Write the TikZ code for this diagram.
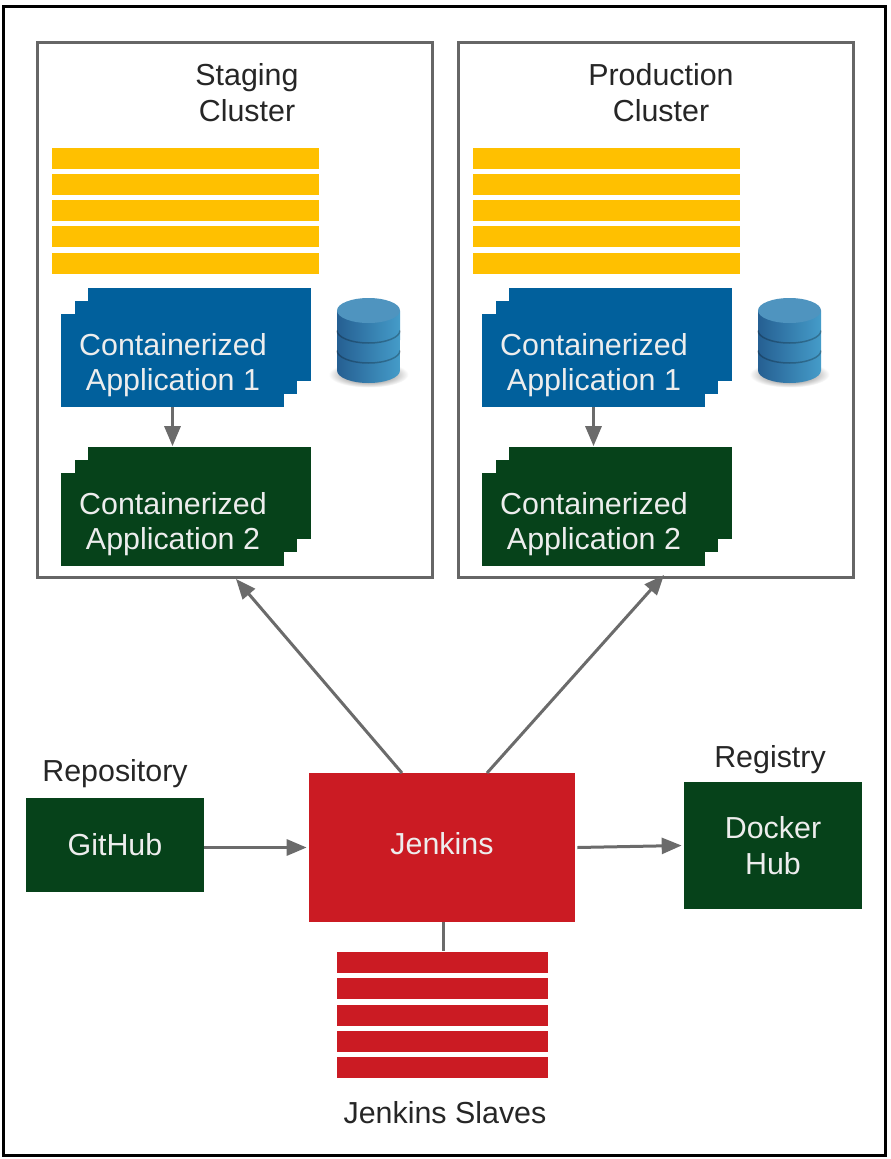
\documentclass[tikz,border=0pt]{standalone}
\usepackage{fontspec}
\setmainfont{Liberation Sans}
\usetikzlibrary{arrows.meta, positioning}

\definecolor{appBlue}{HTML}{01609C}
\definecolor{appGreen}{HTML}{06421A}
\definecolor{jenkinsRed}{HTML}{CB1B23}
\definecolor{barYellow}{HTML}{FFC000}
\definecolor{lineGray}{HTML}{6B6B6B}
\definecolor{frameGray}{HTML}{666666}
\definecolor{dbDark}{HTML}{255F92}
\definecolor{dbLight}{HTML}{459CC9}
\definecolor{dbTop}{HTML}{4F94BF}

\tikzset{
	txt/.style={font=\fontsize{17.3}{20.2}\selectfont, align=center, text=black!85, inner sep=0},
	boxtxt/.style={font=\fontsize{17.3}{20.2}\selectfont, align=center, text=white!93!black, inner sep=0},
	cluster/.style={draw=frameGray, line width=0.06cm, fill=white, minimum width=7.92cm, minimum height=10.72cm},
	yellowbar/.style={fill=barYellow, inner sep=0, minimum width=5.34cm, minimum height=0.42cm},
	redbar/.style={fill=jenkinsRed, inner sep=0, minimum width=4.22cm, minimum height=0.42cm},
	card/.style={inner sep=0, minimum width=4.46cm, minimum height=1.86cm},
	solidbox/.style={boxtxt},
	flow/.style={draw=lineGray, line width=0.06cm, -{Triangle[length=0.4cm,width=0.32cm]}},
	dbstack/.pic={
		\shade[inner color=black!75, outer color=white] (0,64) ellipse [x radius=0.8cm, y radius=0.26cm];
		\path[left color=dbDark, right color=dbLight] (-31.5,0) -- (-31.5,60) arc [start angle=180, end angle=360, x radius=0.63cm, y radius=0.25cm] -- (31.5,0) -- cycle;
		\draw[black, opacity=0.25, line width=0.03cm] (-31.5,20) arc [start angle=180, end angle=360, x radius=0.63cm, y radius=0.25cm];
		\draw[black, opacity=0.25, line width=0.03cm] (-31.5,40) arc [start angle=180, end angle=360, x radius=0.63cm, y radius=0.25cm];
		\fill[dbTop] (0,0) ellipse [x radius=0.63cm, y radius=0.25cm];
	}
}

\begin{document}
\begin{tikzpicture}[x=0.02cm, y=-0.02cm]
	\useasboundingbox (0,0) rectangle (890,1159);
	\node at (444.5,581) [draw=black, line width=0.07cm, minimum width=17.64cm, minimum height=22.98cm, inner sep=0] (outerFrame) {};

	% both clusters
	\foreach \ox/\nm in {0/staging,421/production} {
		\node at ({235+\ox},310) [cluster] (\nm Box) {};
		\foreach \y [count=\i] in {158.5,184.5,210.5,236.5,263.5}
			\node at ({185.5+\ox},\y) [yellowbar] (\nm Bar\i) {};

		\node at ({199.5+\ox},334.5) [card, fill=appBlue] (\nm OneBack) {};
		\node at ({186+\ox},347.5) [card, fill=appBlue] (\nm OneMid) {};
		\node at ({172.5+\ox},360.5) [card, fill=appBlue] (\nm One) {};
		\node at ({173+\ox},365) [boxtxt] (\nm OneText) {Containerized\\Application 1};

		\node at ({199.5+\ox},493) [card, fill=appGreen] (\nm TwoBack) {};
		\node at ({186+\ox},506) [card, fill=appGreen] (\nm TwoMid) {};
		\node at ({172.5+\ox},519.5) [card, fill=appGreen] (\nm Two) {};
		\node at ({173+\ox},524) [boxtxt] (\nm TwoText) {Containerized\\Application 2};

		\pic at ({368.5+\ox},310.5) {dbstack};

		\draw[flow] (\nm One.south) -- (\nm Two.north |- \nm TwoBack.north);
	}

	\node at (247,92.5) [txt] (stagingTitle) {Staging\\Cluster};
	\node at (661,92.5) [txt] (productionTitle) {Production\\Cluster};

	\node at (442,847.5) [solidbox, fill=jenkinsRed, minimum width=5.32cm, minimum height=2.98cm] (jenkins) {\raisebox{0.15cm}{Jenkins}};
	\node at (115,845) [solidbox, fill=appGreen, minimum width=3.56cm, minimum height=1.88cm] (github) {\raisebox{-0.04cm}{GitHub}};
	\node at (773,845.5) [solidbox, fill=appGreen, minimum width=3.56cm, minimum height=2.54cm] (docker) {Docker\\Hub};

	\node[above=0.19cm of github] [txt] (repoLabel) {Repository};
	\node[above=0.15cm of docker, xshift=-0.06cm] [txt] (registryLabel) {Registry};

	\foreach \y [count=\i] in {962,988.5,1015,1041.5,1067.5}
		\node at (442.5,\y) [redbar] (slaveBar\i) {};
	\node at (445,1113) [txt] (slavesLabel) {Jenkins Slaves};

	\coordinate (stagingOut) at (402,773);
	\coordinate (productionOut) at (487,773);
	\coordinate (stagingIn) at (236,579);
	\coordinate (productionIn) at (664,575);

	\draw[flow] (stagingOut) -- (stagingIn);
	\draw[flow] (productionOut) -- (productionIn);
	\draw[flow] (github.east |- jenkins.west) -- ([xshift=-0.04cm]jenkins.west);
	\draw[flow] ([xshift=0.04cm]jenkins.east) -- ([xshift=-0.04cm]docker.west);
	\draw[draw=lineGray, line width=0.06cm] ([xshift=0.02cm]jenkins.south) -- ([xshift=0.02cm]slaveBar1.north -| jenkins.south);
\end{tikzpicture}
\end{document}
